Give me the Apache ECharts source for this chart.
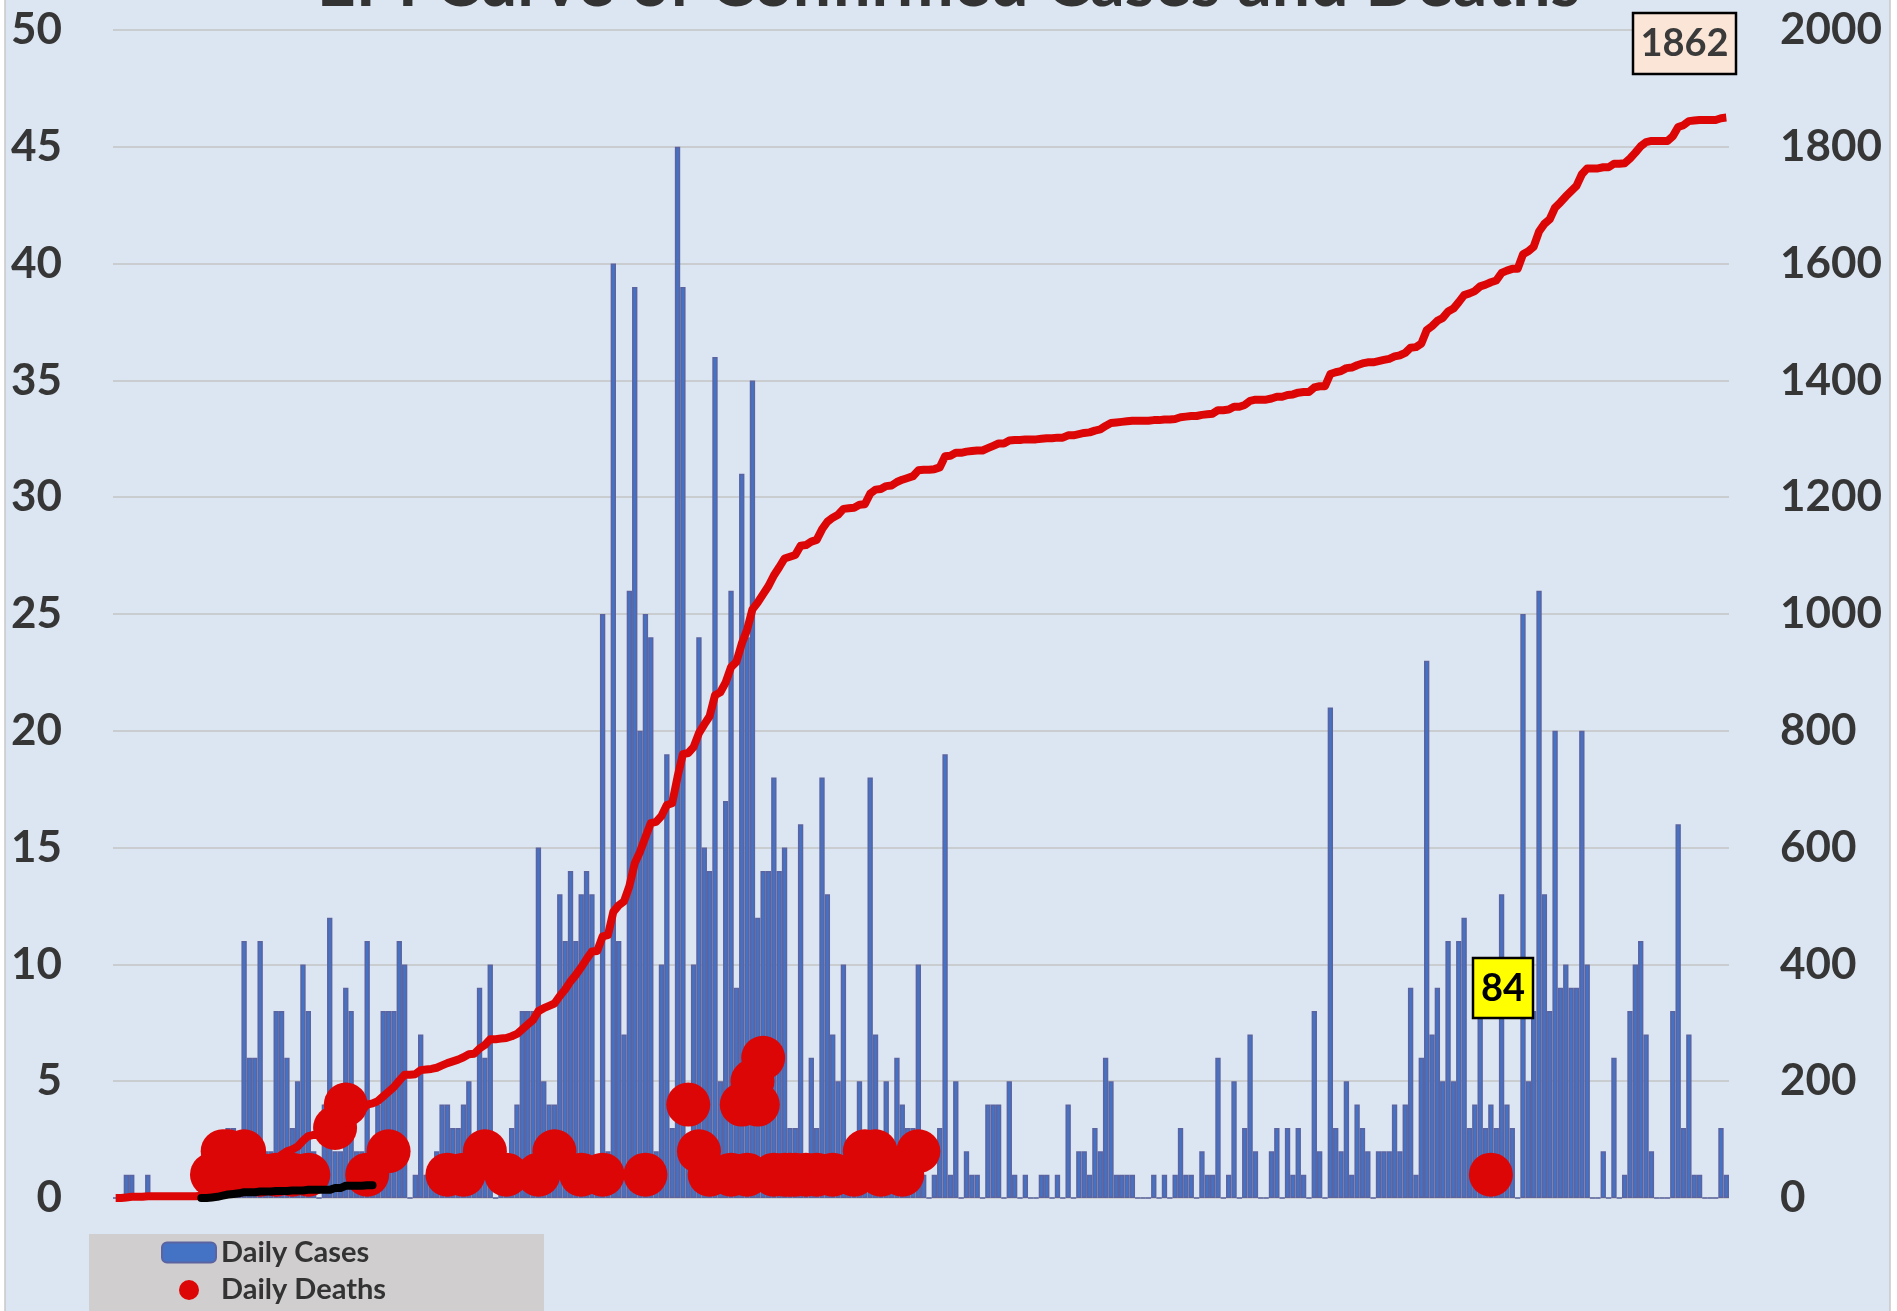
<!DOCTYPE html>
<html><head><meta charset="utf-8">
<script src="https://cdn.jsdelivr.net/npm/echarts@6/dist/echarts.min.js"></script>
<style>html,body{margin:0;padding:0;background:#ffffff;} #c{width:1897px;height:1311px;}</style>
</head><body><div id="c"></div>
<script>
// ---- data ----
const chartTitle = 'EPI Curve of Confirmed Cases and Deaths';
const legendNames = ['Daily Cases', 'Daily Deaths'];
const dailyCases = [
  0,0,1,1,0,0,1,0,0,0,
  0,0,0,0,0,0,1,2,2,2,
  2,3,3,2,11,6,6,11,2,2,
  8,8,6,3,5,10,8,2,0,4,
  12,2,2,9,8,2,2,11,2,4,
  8,8,8,11,10,0,1,7,1,1,
  2,4,4,3,3,4,5,1,9,6,
  10,0,1,1,3,4,8,8,8,15,
  5,4,4,13,11,14,11,13,14,13,
  1,25,2,40,11,7,26,39,20,25,
  24,2,10,19,3,45,39,2,10,24,
  15,14,36,5,17,26,9,31,24,35,
  12,14,14,18,14,15,3,3,16,1,
  6,3,18,13,7,5,10,1,1,5,
  1,18,7,1,5,1,6,4,3,3,
  10,1,0,1,3,19,1,5,0,2,
  1,1,0,4,4,4,0,5,1,0,
  1,0,0,1,1,0,1,0,4,0,
  2,2,1,3,2,6,5,1,1,1,
  1,0,0,0,1,0,1,0,1,3,
  1,1,0,2,1,1,6,0,1,5,
  0,3,7,2,0,0,2,3,0,3,
  1,3,1,0,8,2,0,21,3,2,
  5,1,4,3,2,0,2,2,2,4,
  2,4,9,1,6,23,7,9,5,11,
  5,11,12,3,4,8,3,4,3,13,
  4,3,0,25,5,8,26,13,8,20,
  9,10,9,9,20,10,0,0,2,0,
  6,0,1,8,10,11,7,2,0,0,
  0,8,16,3,7,1,1,0,0,0,
  3,1
];
const deathDay   = [18,19,20,21,22,23,24,27,30,33,36,41,43,47,51,62,65,69,73,79,82,87,91,99,107,109,111,115,117,118,119,120,121,123,125,126,127,129,131,134,138,140,142,143,147,150,257];
const deathCount = [1,1,2,2,1,1,2,1,1,1,1,3,4,1,2,1,1,2,1,1,2,1,1,1,4,2,1,1,4,1,5,4,6,1,1,1,1,1,1,1,1,2,2,1,1,2,1];
const deathLineStart = 16;   // cumulative-deaths line is only drawn over this day range
const deathLineEnd = 48;
const totalCasesLabel = '1862';
const totalDeathsLabel = '84';
const leftAxis = {min: 0, max: 50, interval: 5};
const rightAxis = {min: 0, max: 2000, interval: 200};

// ---- derived ----
const categories = dailyCases.map((_, i) => 'Day ' + (i + 1));
const dailyDeaths = dailyCases.map(() => 0);
deathDay.forEach((d, k) => { dailyDeaths[d] = deathCount[k]; });
let acc = 0;
const cumCases = dailyCases.map(v => (acc += v));
let accD = 0;
const cumDeathsAll = dailyDeaths.map(v => (accD += v));
const cumDeaths = cumDeathsAll.map((v, i) => (i >= deathLineStart && i <= deathLineEnd) ? v : null);
const deathPoints = deathDay.map((d, k) => [d, deathCount[k]]);

const labelFont = {fontFamily: 'Lato', fontWeight: 'bold', fontSize: 44, color: '#363636'};

const chart = echarts.init(document.getElementById('c'), null, {renderer: 'canvas'});
chart.setOption({
  backgroundColor: '#ffffff',
  animation: false,
  title: {
    text: chartTitle, left: 'center', top: -55,
    textStyle: {fontFamily: 'Lato', fontWeight: 'bold', fontSize: 68, color: '#333333'}
  },
  grid: {left: 113, right: 168, top: 30, bottom: 113, containLabel: false},
  legend: {
    data: legendNames, orient: 'vertical', left: 161, top: 1238,
    itemWidth: 54, itemHeight: 20, itemGap: 8.5, padding: 0,
    textStyle: {fontFamily: 'Lato', fontWeight: 'bold', fontSize: 29, color: '#333333'},
    selectedMode: false
  },
  xAxis: {
    type: 'category', data: categories, boundaryGap: true,
    axisLine: {show: false}, axisTick: {show: false}, axisLabel: {show: false}, splitLine: {show: false}
  },
  yAxis: [
    {type: 'value', min: leftAxis.min, max: leftAxis.max, interval: leftAxis.interval, position: 'left',
     axisLine: {show: false}, axisTick: {show: false},
     axisLabel: Object.assign({margin: 51, formatter: v => String(v)}, labelFont),
     splitLine: {show: true, lineStyle: {color: '#c4c4c4', width: 1.5}}},
    {type: 'value', min: rightAxis.min, max: rightAxis.max, interval: rightAxis.interval, position: 'right',
     axisLine: {show: false}, axisTick: {show: false},
     axisLabel: Object.assign({margin: 51, formatter: v => String(v)}, labelFont),
     splitLine: {show: false}}
  ],
  series: [
    {name: 'Daily Cases', type: 'bar', data: dailyCases, yAxisIndex: 0, barCategoryGap: '0%', z: 2,
     itemStyle: {color: '#4472c4', borderColor: '#5b64a0', borderWidth: 1.5}},
    {name: 'Daily Deaths', type: 'scatter', data: deathPoints, yAxisIndex: 0, symbol: 'circle', symbolSize: 44, z: 3,
     itemStyle: {color: '#dd0606', opacity: 1}},
    {name: 'Cumulative Cases', type: 'line', data: cumCases, yAxisIndex: 1, showSymbol: false, symbol: 'none', z: 4,
     lineStyle: {color: '#dd0606', width: 8, cap: 'butt', join: 'round'}},
    {name: 'Cumulative Deaths', type: 'line', data: cumDeaths, yAxisIndex: 1, showSymbol: false, symbol: 'none', z: 5,
     connectNulls: false, lineStyle: {color: '#000000', width: 8, cap: 'round', join: 'round'}}
  ],
  graphic: [
    {type: 'rect', z: -100, silent: true, shape: {x: 5, y: -5, width: 1885, height: 1330},
     style: {fill: '#dce6f2', stroke: '#c8c8c8', lineWidth: 1.5}},
    {type: 'rect', z: -50, silent: true, shape: {x: 89, y: 1234, width: 455, height: 90},
     style: {fill: '#d0cece'}},
    {type: 'group', z: 100, children: [
      {type: 'rect', z: 100, shape: {x: 1633, y: 13, width: 103, height: 61},
       style: {fill: '#fbe5d6', stroke: '#000000', lineWidth: 2.5}},
      {type: 'text', z: 101, x: 1684.5, y: 44,
       style: {text: totalCasesLabel, font: 'bold 38px Lato', fill: '#3a3a3a', align: 'center', verticalAlign: 'middle'}}
    ]},
    {type: 'group', z: 100, children: [
      {type: 'rect', z: 100, shape: {x: 1473, y: 958, width: 60, height: 60},
       style: {fill: '#ffff00', stroke: '#000000', lineWidth: 2.5}},
      {type: 'text', z: 101, x: 1503, y: 989,
       style: {text: totalDeathsLabel, font: 'bold 38px Lato', fill: '#000000', align: 'center', verticalAlign: 'middle'}}
    ]}
  ]
});
</script>
</body></html>
